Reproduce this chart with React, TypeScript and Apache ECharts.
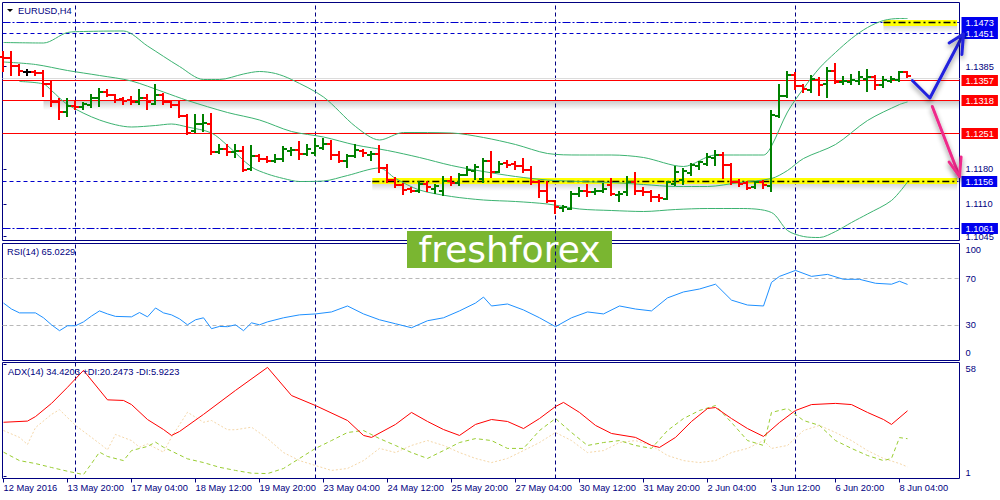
import React, { useEffect, useRef } from "react";
import * as echarts from "echarts";

const FONT = "'Liberation Sans', Arial, sans-serif";
const NAVY = "#000080";
const FS = 9.3;

// x-axis labels (bar index -> label)
const xLabelIdx = [0, 8, 16, 24, 32, 40, 48, 56, 64, 72, 80, 88, 96, 104, 112];
const xLabels = [
  "12 May 2016", "13 May 20:00", "17 May 04:00", "18 May 12:00", "19 May 20:00",
  "23 May 04:00", "24 May 12:00", "25 May 20:00", "27 May 04:00", "30 May 12:00",
  "31 May 20:00", "2 Jun 04:00", "3 Jun 12:00", "6 Jun 20:00", "8 Jun 04:00",
];
// weekly period separators (bar index)
const separators = [9, 39, 69, 99];

// H4 bars: [open, high, low, close]
const ohlc: number[][] = [
  [1.1404, 1.1414, 1.1377, 1.1402], [1.1402, 1.1414, 1.1368, 1.1386], [1.1386, 1.1388, 1.1368, 1.1377],
  [1.1374, 1.1379, 1.1368, 1.1374], [1.1374, 1.1376, 1.1368, 1.1372], [1.1372, 1.1376, 1.1326, 1.1349],
  [1.1349, 1.1355, 1.1306, 1.1315], [1.1315, 1.1320, 1.1280, 1.1294], [1.1294, 1.1320, 1.1285, 1.1306],
  [1.1306, 1.1314, 1.1300, 1.1304], [1.1304, 1.1312, 1.1300, 1.1310], [1.1308, 1.1328, 1.1304, 1.1321],
  [1.1321, 1.1340, 1.1305, 1.1334], [1.1334, 1.1338, 1.1325, 1.1327], [1.1327, 1.1328, 1.1314, 1.1318],
  [1.1320, 1.1321, 1.1310, 1.1317], [1.1318, 1.1324, 1.1310, 1.1314], [1.1315, 1.1338, 1.1310, 1.1321],
  [1.1321, 1.1327, 1.1300, 1.1315], [1.1310, 1.1347, 1.1309, 1.1327], [1.1327, 1.1330, 1.1310, 1.1314],
  [1.1314, 1.1315, 1.1304, 1.1307], [1.1307, 1.1315, 1.1284, 1.1286], [1.1286, 1.1287, 1.1250, 1.1252],
  [1.1257, 1.1287, 1.1254, 1.1270], [1.1270, 1.1287, 1.1257, 1.1272], [1.1270, 1.1290, 1.1210, 1.1214],
  [1.1215, 1.1227, 1.1212, 1.1220], [1.1220, 1.1227, 1.1207, 1.1214], [1.1214, 1.1227, 1.1204, 1.1217],
  [1.1217, 1.1224, 1.1177, 1.1179], [1.1180, 1.1226, 1.1179, 1.1206], [1.1206, 1.1207, 1.1197, 1.1200],
  [1.1200, 1.1204, 1.1194, 1.1197], [1.1197, 1.1207, 1.1195, 1.1200], [1.1200, 1.1224, 1.1197, 1.1220],
  [1.1217, 1.1222, 1.1207, 1.1219], [1.1219, 1.1235, 1.1200, 1.1210], [1.1210, 1.1227, 1.1207, 1.1220],
  [1.1211, 1.1240, 1.1208, 1.1226], [1.1222, 1.1240, 1.1220, 1.1230], [1.1230, 1.1237, 1.1200, 1.1207],
  [1.1207, 1.1215, 1.1195, 1.1197], [1.1197, 1.1207, 1.1184, 1.1206], [1.1206, 1.1228, 1.1204, 1.1219],
  [1.1217, 1.1219, 1.1206, 1.1212], [1.1208, 1.1215, 1.1199, 1.1210], [1.1210, 1.1226, 1.1174, 1.1182],
  [1.1182, 1.1187, 1.1154, 1.1159], [1.1159, 1.1162, 1.1144, 1.1147], [1.1147, 1.1150, 1.1130, 1.1139],
  [1.1140, 1.1142, 1.1134, 1.1136], [1.1136, 1.1155, 1.1134, 1.1150], [1.1150, 1.1155, 1.1137, 1.1144],
  [1.1140, 1.1148, 1.1132, 1.1146], [1.1137, 1.1164, 1.1127, 1.1157], [1.1157, 1.1164, 1.1147, 1.1152],
  [1.1152, 1.1170, 1.1147, 1.1168], [1.1168, 1.1184, 1.1167, 1.1179], [1.1177, 1.1187, 1.1160, 1.1184],
  [1.1160, 1.1200, 1.1155, 1.1197], [1.1197, 1.1215, 1.1164, 1.1174], [1.1175, 1.1194, 1.1174, 1.1190],
  [1.1192, 1.1197, 1.1184, 1.1188], [1.1190, 1.1195, 1.1180, 1.1186], [1.1186, 1.1200, 1.1174, 1.1179],
  [1.1179, 1.1184, 1.1150, 1.1154], [1.1154, 1.1157, 1.1124, 1.1137], [1.1137, 1.1154, 1.1114, 1.1117],
  [1.1115, 1.1117, 1.1092, 1.1104], [1.1102, 1.1106, 1.1095, 1.1104], [1.1100, 1.1134, 1.1099, 1.1130],
  [1.1130, 1.1142, 1.1126, 1.1137], [1.1137, 1.1147, 1.1126, 1.1134], [1.1134, 1.1140, 1.1130, 1.1137],
  [1.1137, 1.1150, 1.1134, 1.1140], [1.1147, 1.1160, 1.1127, 1.1130], [1.1127, 1.1134, 1.1117, 1.1130],
  [1.1134, 1.1164, 1.1128, 1.1154], [1.1155, 1.1172, 1.1130, 1.1137], [1.1137, 1.1142, 1.1127, 1.1134],
  [1.1134, 1.1135, 1.1117, 1.1124], [1.1124, 1.1127, 1.1117, 1.1122], [1.1120, 1.1155, 1.1119, 1.1154],
  [1.1150, 1.1184, 1.1147, 1.1174], [1.1159, 1.1180, 1.1150, 1.1177], [1.1172, 1.1190, 1.1168, 1.1187],
  [1.1186, 1.1195, 1.1180, 1.1193], [1.1190, 1.1210, 1.1187, 1.1204], [1.1202, 1.1217, 1.1187, 1.1208],
  [1.1208, 1.1212, 1.1162, 1.1188], [1.1188, 1.1190, 1.1150, 1.1154], [1.1155, 1.1159, 1.1146, 1.1150],
  [1.1152, 1.1155, 1.1140, 1.1142], [1.1144, 1.1155, 1.1142, 1.1154], [1.1154, 1.1157, 1.1142, 1.1147],
  [1.1146, 1.1297, 1.1135, 1.1287], [1.1286, 1.1348, 1.1284, 1.1326], [1.1326, 1.1374, 1.1324, 1.1368],
  [1.1367, 1.1372, 1.1340, 1.1346], [1.1346, 1.1348, 1.1335, 1.1340], [1.1339, 1.1366, 1.1335, 1.1360],
  [1.1359, 1.1362, 1.1328, 1.1348], [1.1350, 1.1382, 1.1324, 1.1377], [1.1377, 1.1390, 1.1352, 1.1355],
  [1.1354, 1.1364, 1.1350, 1.1357], [1.1355, 1.1367, 1.1350, 1.1359], [1.1357, 1.1374, 1.1350, 1.1364],
  [1.1360, 1.1379, 1.1337, 1.1364], [1.1364, 1.1366, 1.1340, 1.1348], [1.1348, 1.1364, 1.1344, 1.1359],
  [1.1357, 1.1364, 1.1354, 1.1360], [1.1359, 1.1375, 1.1357, 1.1374], [1.1374, 1.1375, 1.1364, 1.1366],
];

// Bollinger bands [bar index, price]
const bbUpper = [
  [0, 1.1433], [5, 1.1432], [8, 1.1453], [10, 1.1455], [15, 1.1456], [18, 1.1426], [22, 1.1385],
  [25, 1.1359], [27, 1.1359], [30, 1.1370], [32, 1.1375], [34, 1.1371], [36, 1.1359], [40, 1.1324],
  [44, 1.1265], [47, 1.1238], [50, 1.1253], [56, 1.1252], [60, 1.1243], [64, 1.1229], [68, 1.1211],
  [72, 1.1208], [76, 1.1208], [80, 1.1203], [85, 1.1185], [89, 1.1208], [95, 1.1208], [96, 1.1226],
  [98, 1.1294], [100, 1.1341], [102, 1.1382], [104, 1.1413], [106, 1.1441], [108, 1.1463],
  [110, 1.1477], [112, 1.1481], [113, 1.1481],
];
const bbMid = [
  [0, 1.1394], [4, 1.1389], [8, 1.1377], [12, 1.1367], [16, 1.1356], [20, 1.1334], [23, 1.1317],
  [28, 1.1293], [32, 1.1278], [36, 1.1255], [40, 1.1244], [44, 1.1228], [48, 1.1217], [52, 1.1203],
  [56, 1.1187], [60, 1.1175], [64, 1.1165], [68, 1.1158], [72, 1.1155], [76, 1.1153], [80, 1.1149],
  [84, 1.1145], [88, 1.1145], [92, 1.1153], [96, 1.1161], [98, 1.1177], [100, 1.1201], [104, 1.1229],
  [108, 1.1277], [112, 1.1309], [113, 1.1314],
];
const bbLower = [
  [2, 1.1355], [5, 1.1350], [6, 1.1337], [8, 1.1309], [12, 1.1278], [16, 1.1264], [19, 1.1267],
  [21, 1.1270], [23, 1.1264], [26, 1.1252], [28, 1.1227], [31, 1.1184], [33, 1.1170], [35, 1.1161],
  [37, 1.1155], [40, 1.1156], [43, 1.1167], [47, 1.1182], [49, 1.1161], [52, 1.1138], [56, 1.1125],
  [60, 1.1118], [64, 1.1115], [68, 1.1110], [72, 1.1100], [76, 1.1097], [80, 1.1095], [84, 1.1099],
  [88, 1.1101], [92, 1.1101], [96, 1.1093], [98, 1.1057], [100, 1.1045], [102, 1.1043], [104, 1.1055],
  [106, 1.1073], [108, 1.1090], [111, 1.1117], [113, 1.1154],
];

// RSI(14) [bar index, value]
const rsi = [
  [0, 49.1], [1, 44], [2, 40.7], [4, 40.7], [5, 36.5], [6, 30.5], [7, 25.5], [8, 29.7], [9, 29.7],
  [10, 33], [11, 38], [12, 42.4], [13, 39.8], [14, 37.7], [16, 37.3], [17, 41], [18, 37.3], [19, 44.9],
  [20, 40.7], [21, 39], [22, 35.6], [23, 30.5], [24, 34.8], [25, 36.5], [26, 27.2], [27, 29.1],
  [28, 28.9], [29, 30.5], [30, 25.5], [31, 32.2], [32, 30.5], [33, 33], [35, 36.5], [37, 39],
  [39, 39.8], [41, 41.5], [43, 46.6], [45, 39.8], [47, 34.8], [49, 31.4], [51, 28], [53, 34],
  [55, 36.5], [57, 42.4], [59, 49.1], [60, 54.2], [61, 46.6], [63, 48.3], [65, 43.2], [67, 36.5],
  [69, 28.9], [71, 36.5], [73, 41.5], [75, 39.8], [77, 46.6], [79, 44], [81, 42.4], [83, 53.5],
  [85, 58.6], [87, 61.1], [89, 65.2], [91, 51.6], [93, 47.4], [95, 46.6], [96, 66.8], [97, 71.9],
  [99, 77], [101, 71.9], [103, 73.6], [105, 69.4], [107, 69.4], [109, 66], [111, 65.2], [112, 67.7],
  [113, 65.02],
];

// ADX(14), +DI, -DI [bar index, value]
const adx = [
  [0, 28.6], [3, 29.2], [4, 31.5], [6, 38.2], [8, 46.4], [10, 55], [13, 40], [15, 39.7], [16, 37.6],
  [18, 30], [20, 24.9], [21, 21.9], [22, 23.9], [25, 32.6], [29, 44.8], [33, 56.5], [36, 42.2],
  [39, 37.1], [43, 29.5], [45, 21.9], [46, 20.9], [49, 27.5], [51, 33.6], [53, 29], [55, 24.9],
  [57, 21.9], [59, 27.5], [61, 30], [63, 29], [65, 25.4], [67, 30.5], [69, 36.6], [70, 38.7],
  [72, 33.6], [74, 27], [76, 22.9], [79, 20.9], [81, 16.8], [82, 15.8], [84, 20.9], [86, 29],
  [88, 35.6], [89, 36.1], [91, 30.5], [93, 25.4], [95, 21.4], [97, 28.5], [99, 34.6], [101, 37.6],
  [104, 38.2], [106, 37.6], [108, 33.6], [110, 30], [111, 27.5], [113, 34.42],
];
const plusDI = [
  [0, 13.4], [2, 9.1], [4, 7.6], [6, 5.6], [8, 3.7], [10, 2.0], [11, 7.6], [12, 13.4], [13, 11.2],
  [15, 9.1], [16, 14.2], [18, 16.3], [19, 18.5], [20, 15.9], [23, 10], [25, 8.1], [27, 5.7], [29, 4.1],
  [31, 2.7], [33, 2.5], [35, 5.1], [37, 10.2], [39, 15.3], [41, 19.3], [43, 23.4], [45, 24.4],
  [47, 20.3], [49, 16.8], [51, 13.2], [53, 10.2], [55, 14.2], [57, 18.3], [59, 20.3], [61, 19.3],
  [63, 15.3], [65, 15.3], [67, 24.4], [69, 30.5], [71, 23.4], [73, 16.8], [75, 18.3], [77, 19.3],
  [79, 16.8], [81, 15.3], [83, 24.4], [85, 30.5], [87, 34.6], [89, 37.1], [91, 28.5], [93, 19.3],
  [95, 16.8], [96, 33.6], [98, 35.6], [100, 29.5], [102, 27], [104, 19.3], [106, 15.3], [108, 11.7],
  [110, 9.1], [111, 10.2], [112, 20.8], [113, 20.25],
];
const minusDI = [
  [0, 24.4], [2, 20.9], [3, 17.3], [4, 25.9], [6, 32.6], [7, 35], [9, 27], [11, 20.9], [12, 17.8],
  [13, 14.6], [14, 22.4], [16, 19.3], [17, 15.9], [18, 17.6], [20, 13.4], [21, 21], [23, 33.7],
  [25, 28.6], [26, 29.5], [28, 24.8], [29, 24.8], [31, 26.1], [33, 20.3], [35, 13.2], [37, 9.1],
  [39, 6.6], [41, 4.1], [43, 5.1], [45, 9.1], [47, 15.3], [49, 13.2], [51, 16.8], [53, 19.3],
  [55, 16.8], [57, 13.2], [59, 10.2], [61, 8.1], [63, 10.2], [65, 14.2], [67, 18.3], [69, 23.4],
  [71, 19.3], [73, 13.2], [75, 14.2], [77, 18.3], [79, 19.3], [81, 16.8], [83, 11.7], [85, 9.1],
  [87, 8.1], [89, 9.1], [91, 13.2], [93, 15.3], [95, 19.3], [96, 15.3], [98, 16.8], [100, 24.4],
  [102, 27], [104, 23.4], [106, 19.3], [108, 14.2], [110, 10.2], [112, 7.6], [113, 5.92],
];

// price scale labels and marked levels
const priceTicks = [1.1385, 1.118, 1.111, 1.1045];
const blueLevels = [1.1473, 1.1451, 1.1156, 1.1061];
const blueDashedLevels = [1.1451, 1.1156];
const redLevels = [1.1357, 1.1318, 1.1251];
const bidLevel = 1.1361;
const rsiTicks = [0, 30, 70, 100];
const rsiLevels = [70, 30];
const adxTicks = [1, 58];
// yellow highlighted zones: [from bar, to bar, price]
const yellowZones = [
  [110, 119.2, 1.1473],
  [46.1, 119.2, 1.1156],
];
// drop shadows under marked lines: [from bar, to bar, price]
const shadowedLines = [
  [5, 119.5, 1.1318],
  [110, 119.2, 1.1473],
  [46.1, 119.2, 1.1156],
];
// hand-drawn arrows in [bar index, price]
const blueArrow = [[113.6, 1.1357], [115.8, 1.1322], [120.0, 1.145]];
const blueArrowHead = [[118.2, 1.1432], [120.0, 1.145], [119.8, 1.1409]];
const pinkArrow = [[116.1, 1.1305], [119.5, 1.1165]];
const pinkArrowHead = [[118.2, 1.1194], [119.5, 1.1165], [119.7, 1.1204]];

const rsiValueText = "RSI(14) 65.0229";
const adxValueText = "ADX(14) 34.4203 +DI:20.2473 -DI:5.9223";

const X_MIN = -0.125;
const X_MAX = 119.5;

const lblStyle = { color: NAVY, fontSize: FS, fontFamily: FONT };

function buildOption() {
  const sepData = () =>
    separators.map((v) => ({ xAxis: v, lineStyle: { color: NAVY, width: 1, type: [4, 3] }, label: { show: false } }));

  const xAxes = [0, 1, 2].map((g) => ({
    type: "value",
    gridIndex: g,
    min: X_MIN,
    max: X_MAX,
    axisLine: { show: false },
    splitLine: { show: false },
    axisTick:
      g === 2
        ? { show: true, customValues: xLabelIdx, length: 4, lineStyle: { color: NAVY } }
        : { show: false },
    axisLabel:
      g === 2
        ? {
            show: true,
            customValues: xLabelIdx,
            formatter: (v: number) => {
              const k = xLabelIdx.indexOf(Math.round(v));
              return k >= 0 ? xLabels[k] : "";
            },
            align: "left",
            margin: 5,
            ...lblStyle,
          }
        : { show: false },
  }));

  const yAxes = [
    {
      type: "value",
      gridIndex: 0,
      position: "right",
      min: 1.1037,
      max: 1.1513,
      axisLine: { show: false },
      splitLine: { show: false },
      axisTick: { show: true, customValues: priceTicks, length: 3, lineStyle: { color: NAVY } },
      axisLabel: { customValues: priceTicks, formatter: (v: number) => v.toFixed(4), margin: 6, ...lblStyle },
    },
    {
      type: "value",
      gridIndex: 1,
      position: "right",
      min: 0,
      max: 100,
      axisLine: { show: false },
      splitLine: { show: false },
      axisTick: { show: true, customValues: rsiTicks, length: 3, lineStyle: { color: NAVY } },
      axisLabel: {
        customValues: rsiTicks,
        margin: 6,
        ...lblStyle,
        formatter: (v: number) => (v === 100 ? "{t|100}" : v === 0 ? "{b|0}" : String(v)),
        rich: {
          t: { padding: [12, 0, 0, 0], ...lblStyle },
          b: { padding: [0, 0, 15, 0], ...lblStyle },
        },
      },
    },
    {
      type: "value",
      gridIndex: 2,
      position: "right",
      min: 0,
      max: 59,
      axisLine: { show: false },
      splitLine: { show: false },
      axisTick: { show: true, customValues: adxTicks, length: 3, lineStyle: { color: NAVY } },
      axisLabel: {
        customValues: adxTicks,
        margin: 6,
        ...lblStyle,
        formatter: (v: number) => (v === 58 ? "{t|58}" : v === 1 ? "{b|1}" : String(v)),
        rich: {
          t: { padding: [10, 0, 0, 0], ...lblStyle },
          b: { padding: [0, 0, 7, 0], ...lblStyle },
        },
      },
    },
  ];

  const gridBase = { left: 2.5, width: 957, show: true, borderColor: NAVY, borderWidth: 1, backgroundColor: "#ffffff" };

  return {
    animation: false,
    backgroundColor: "#ffffff",
    grid: [
      { ...gridBase, top: 2.5, height: 238 },
      { ...gridBase, top: 243.5, height: 117 },
      { ...gridBase, top: 362.5, height: 116 },
    ],
    xAxis: xAxes,
    yAxis: yAxes,
    series: [
      {
        type: "line",
        xAxisIndex: 0,
        yAxisIndex: 0,
        data: [],
        silent: true,
        markLine: { silent: true, symbol: "none", z: 1, precision: 6, animation: false, data: sepData() },
      },
      ...[bbUpper, bbMid, bbLower].map((d) => ({
        type: "line",
        xAxisIndex: 0,
        yAxisIndex: 0,
        data: d,
        showSymbol: false,
        smooth: 0.3,
        silent: true,
        z: 2,
        lineStyle: { color: "#3cb371", width: 1 },
      })),
      {
        type: "custom",
        xAxisIndex: 0,
        yAxisIndex: 0,
        z: 3,
        silent: true,
        data: ohlc.map((d, i) => [i, d[0], d[1], d[2], d[3]]),
        encode: { x: 0, y: [1, 2, 3, 4] },
        renderItem: (params: any, api: any) => {
          const i = api.value(0);
          const o = api.value(1);
          const h = api.value(2);
          const l = api.value(3);
          const c = api.value(4);
          const ph = api.coord([i, h]);
          const pl = api.coord([i, l]);
          const po = api.coord([i, o]);
          const pc = api.coord([i, c]);
          const x = Math.floor(ph[0]);
          const color = c > o ? "#008000" : c < o ? "#ff0000" : "#000000";
          const yo = Math.round(po[1]);
          const yc = Math.round(pc[1]);
          const yh = Math.round(ph[1]);
          const yl = Math.round(pl[1]);
          const st = { stroke: color, lineWidth: 2 };
          return {
            type: "group",
            children: [
              { type: "line", shape: { x1: x, y1: yh - 1, x2: x, y2: yl + 1 }, style: st },
              { type: "line", shape: { x1: x - 4, y1: yo, x2: x, y2: yo }, style: st },
              { type: "line", shape: { x1: x, y1: yc, x2: x + 4, y2: yc }, style: st },
            ],
          };
        },
      },
      {
        type: "line",
        xAxisIndex: 1,
        yAxisIndex: 1,
        data: rsi,
        showSymbol: false,
        silent: true,
        z: 3,
        lineStyle: { color: "#1e90ff", width: 1 },
        markLine: {
          silent: true,
          symbol: "none",
          z: 1,
          precision: 6,
          animation: false,
          data: [
            ...sepData(),
            ...rsiLevels.map((v) => ({ yAxis: v, lineStyle: { color: "#b8b8b8", width: 1, type: [4, 3] }, label: { show: false } })),
          ],
        },
      },
      {
        type: "line",
        xAxisIndex: 2,
        yAxisIndex: 2,
        data: minusDI,
        showSymbol: false,
        silent: true,
        z: 2,
        lineStyle: { color: "#f5d7a8", width: 1, type: [2, 2] },
        markLine: { silent: true, symbol: "none", z: 1, precision: 6, animation: false, data: sepData() },
      },
      {
        type: "line",
        xAxisIndex: 2,
        yAxisIndex: 2,
        data: plusDI,
        showSymbol: false,
        silent: true,
        z: 2,
        lineStyle: { color: "#9acd32", width: 1, type: [4, 3] },
      },
      {
        type: "line",
        xAxisIndex: 2,
        yAxisIndex: 2,
        data: adx,
        showSymbol: false,
        silent: true,
        z: 3,
        lineStyle: { color: "#ff0000", width: 1 },
      },
    ],
  };
}

export default function App() {
  const ref = useRef<HTMLDivElement>(null);
  useEffect(() => {
    if (!ref.current) return;
    const chart = echarts.init(ref.current, null, { renderer: "svg" });
    chart.setOption(buildOption() as any);
    const toPx = (p: number[]) => chart.convertToPixel({ xAxisIndex: 0, yAxisIndex: 0 }, p) as number[];
    const px = (pts: number[][]) => pts.map(toPx);
    const snap = (y: number) => Math.round(y - 0.5) + 0.5;
    const xL = toPx([X_MIN, 1.12])[0];
    const xR = toPx([X_MAX, 1.12])[0];

    const hline = (x1: number, x2: number, y: number, stroke: string, width: number, dash: any, z: number, z2: number) => ({
      type: "line",
      z,
      z2,
      silent: true,
      shape: { x1, y1: y, x2, y2: y },
      style: { stroke, lineWidth: width, lineDash: dash },
    });
    const labelBox = (p: number, bg: string) => ({
      type: "text",
      z: 40,
      silent: true,
      x: xR + 2,
      y: snap(toPx([0, p])[1]),
      style: {
        text: p.toFixed(4),
        fill: "#ffffff",
        backgroundColor: bg,
        padding: [1, 4, 0, 4],
        lineHeight: 10,
        fontSize: FS,
        fontFamily: FONT,
        align: "left",
        verticalAlign: "middle",
      },
    });

    const els: any[] = [];
    // drop shadows
    shadowedLines.forEach(([a, b, p]) => {
      const s = toPx([a, p]);
      const e = toPx([b, p]);
      els.push({
        type: "rect",
        z: 1,
        z2: 0,
        silent: true,
        shape: { x: s[0], y: Math.round(s[1]) + 1, width: e[0] - s[0], height: 9 },
        style: {
          fill: {
            type: "linear",
            x: 0,
            y: 0,
            x2: 0,
            y2: 1,
            colorStops: [
              { offset: 0, color: "rgba(0,0,0,0.2)" },
              { offset: 1, color: "rgba(0,0,0,0)" },
            ],
          },
        },
      });
    });
    // level lines
    els.push(hline(xL, xR, snap(toPx([0, bidLevel])[1]), "#dcdcdc", 1, null, 2, 0));
    blueLevels.forEach((p) =>
      els.push(
        hline(xL, xR, snap(toPx([0, p])[1]), "#0000cd", 1, blueDashedLevels.indexOf(p) >= 0 ? [4, 3] : [8, 2, 2, 2], 2, 1)
      )
    );
    redLevels.forEach((p) => els.push(hline(xL, xR, snap(toPx([0, p])[1]), "#ff0000", 1, null, 2, 1)));
    // yellow zones
    yellowZones.forEach(([a, b, p]) => {
      const s = toPx([a, p]);
      const e = toPx([b, p]);
      els.push(hline(s[0], e[0], Math.round(s[1]), "#ffff00", 6, null, 2, 2));
      els.push(hline(s[0], e[0], snap(s[1]), "#000000", 1.5, [7, 3, 2, 3], 2, 3));
    });
    // label boxes
    blueLevels.forEach((p) => els.push(labelBox(p, "#0000ee")));
    redLevels.forEach((p) => els.push(labelBox(p, "#ff0000")));

    const shadow = { shadowBlur: 5, shadowColor: "rgba(0,0,0,0.45)", shadowOffsetY: 3 };
    const arrowStyle = (c: string) => ({ stroke: c, lineWidth: 3, lineJoin: "round", lineCap: "round", fill: null, ...shadow });
    const txt = (x: number, y: number, text: string) => ({
      type: "text",
      x,
      y,
      z: 50,
      silent: true,
      style: { text, fill: NAVY, fontSize: FS, fontFamily: FONT, align: "left", verticalAlign: "middle" },
    });
    els.push(
      { type: "polygon", z: 50, silent: true, shape: { points: [[7, 9], [13, 9], [10, 12]] }, style: { fill: "#000000" } },
      txt(18, 11, "EURUSD,H4"),
      txt(7, 252, rsiValueText),
      txt(8, 372, adxValueText),
      { type: "polyline", z: 60, silent: true, shape: { points: px(blueArrow) }, style: arrowStyle("#2121dd") },
      { type: "polyline", z: 60, silent: true, shape: { points: px(blueArrowHead) }, style: arrowStyle("#2121dd") },
      { type: "polyline", z: 60, silent: true, shape: { points: px(pinkArrow) }, style: arrowStyle("#ee2a8a") },
      { type: "polyline", z: 60, silent: true, shape: { points: px(pinkArrowHead) }, style: arrowStyle("#ee2a8a") },
      {
        type: "group",
        z: 70,
        silent: true,
        children: [
          { type: "rect", shape: { x: 407, y: 231, width: 205, height: 37 }, style: { fill: "#7ab631" } },
          {
            type: "text",
            x: 509.5,
            y: 249,
            style: { text: "freshforex", fill: "#ffffff", fontSize: 36, fontFamily: "'DejaVu Sans', sans-serif", align: "center", verticalAlign: "middle" },
          },
        ],
      }
    );
    chart.setOption({ graphic: els } as any);
    return () => chart.dispose();
  }, []);
  return <div ref={ref} style={{ position: "absolute", left: 0, top: 0, width: 1000, height: 500 }} />;
}
